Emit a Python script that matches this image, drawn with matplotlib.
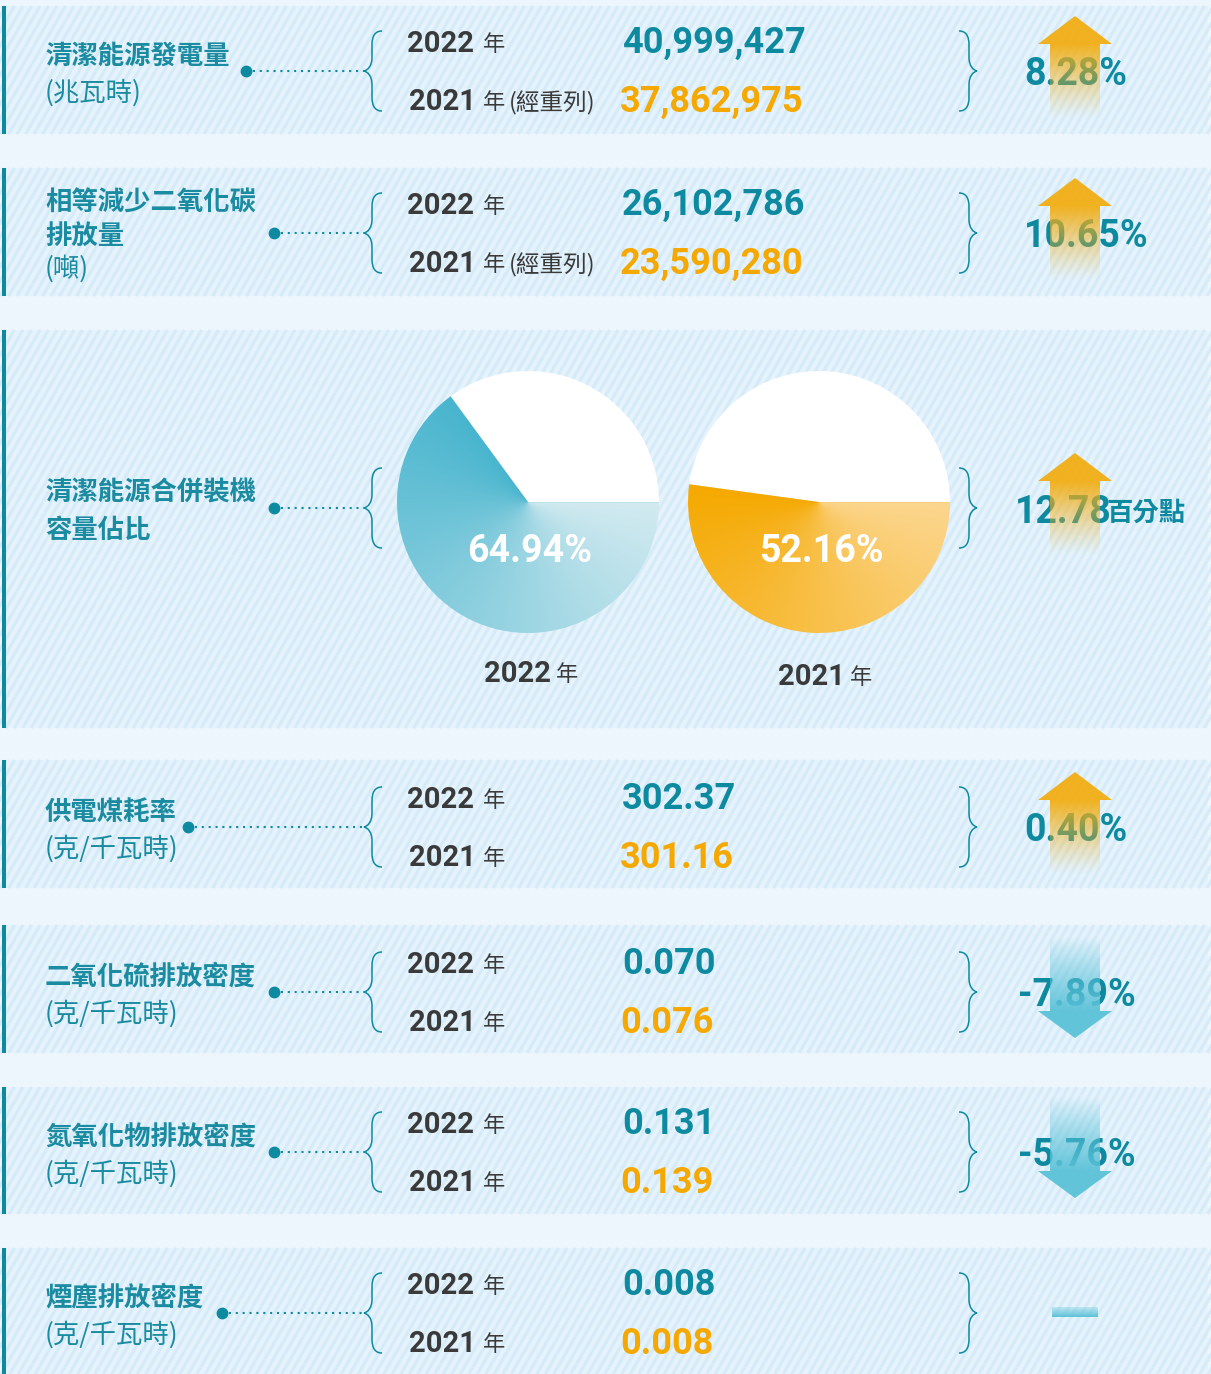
import numpy as np
import matplotlib
matplotlib.use("Agg")
import matplotlib.pyplot as plt
from matplotlib.patches import Rectangle, Polygon, PathPatch
from matplotlib.path import Path
from matplotlib.collections import LineCollection

# ---- data ----
metrics = [
    ["清潔能源發電量"],
    ["相等減少二氧化碳", "排放量"],
    ["清潔能源合併裝機", "容量佔比"],
    ["供電煤耗率"],
    ["二氧化硫排放密度"],
    ["氮氧化物排放密度"],
    ["煙塵排放密度"],
]
units = ["(兆瓦時)", "(噸)", "", "(克/千瓦時)", "(克/千瓦時)", "(克/千瓦時)", "(克/千瓦時)"]
values_2022 = [40999427, 26102786, 64.94, 302.37, 0.070, 0.131, 0.008]
values_2021 = [37862975, 23590280, 52.16, 301.16, 0.076, 0.139, 0.008]
decimals = [0, 0, 2, 2, 3, 3, 3]
restated_2021 = [True, True, False, False, False, False, False]
changes = [8.28, 10.65, 12.78, 0.40, -7.89, -5.76, 0.0]
change_units = ["%", "%", "百分點", "%", "%", "%", ""]
years = ["2022", "2021"]
PIE_ROW = 2

# ---- layout (pixels) ----
W, H = 1211, 1374
bands = [(6, 134), (168, 296), (330, 728), (760, 888), (925, 1053), (1087, 1214), (1248, 1374)]
centers = [71, 233, 508, 827, 992, 1152, 1313]
dot_x = [246, 274, 274, 188, 274, 274, 222]
change_x = [1024, 1024, 1015, 1024, 1018, 1018, 1075]
pie_cx = [528, 819]
pie_cy = 502
pie_r = 131

BG = "#EEF6FD"
BAND = "#E6F3FC"
STRIPE = "#D5EBF8"
TEAL = "#0E8AA0"
LABEL = "#1A8BA0"
ORANGE = "#F5A800"
DARK = "#3A3A3A"
ARROW_UP = "#F2AE14"
ARROW_DN = "#5BC2D8"

CJK = ["Noto Sans CJK TC", "DejaVu Sans"]
NUM = ["Roboto", "DejaVu Sans"]


def put(ax, x, cy, s, size, color, family, weight="bold", ha="left", z=3):
    # place text so that its visual middle sits on cy
    px = size * 100 / 72
    off = 0.355 * px if family is NUM else 0.38 * px
    ax.text(x, cy + off, s, fontsize=size, color=color, family=family,
            fontweight=weight, ha=ha, va="baseline", zorder=z)


def brace(ax, x_tip, yc, half, side):
    s = side
    xa, xs = x_tip + s * 18, x_tip + s * 8
    verts = [(xa, yc - half),
             (xs + s * 3, yc - half), (xs, yc - half + 5), (xs, yc - half + 14),
             (xs, yc - 14),
             (xs, yc - 5), (x_tip + s * 4, yc - 1), (x_tip, yc),
             (x_tip + s * 4, yc + 1), (xs, yc + 5), (xs, yc + 14),
             (xs, yc + half - 14),
             (xs, yc + half - 5), (xs + s * 3, yc + half), (xa, yc + half)]
    codes = [Path.MOVETO] + [Path.CURVE4] * 3 + [Path.LINETO] + [Path.CURVE4] * 6 \
        + [Path.LINETO] + [Path.CURVE4] * 3
    ax.add_patch(PathPatch(Path(verts, codes), facecolor="none", edgecolor=TEAL,
                           lw=1.1, zorder=2))


def gradient_patch(ax, poly, x0, x1, y0, y1, color, alpha_of_y):
    ys = np.linspace(y0, y1, 200)
    rgba = np.zeros((200, 2, 4))
    rgba[..., :3] = matplotlib.colors.to_rgb(color)
    rgba[..., 3] = alpha_of_y(ys)[:, None]
    im = ax.imshow(rgba, extent=(x0, x1, y1, y0), origin="upper",
                   aspect="auto", zorder=4, interpolation="bilinear")
    im.set_clip_path(Polygon(poly, closed=True, transform=ax.transData))


def arrow(ax, xc, yc, up):
    if up:
        tip, hb, end = yc - 55, yc - 27, yc + 48
        poly = [(xc, tip), (xc + 37, hb), (xc + 25, hb), (xc + 25, end),
                (xc - 25, end), (xc - 25, hb), (xc - 37, hb)]

        def a(y):
            t = np.clip((y - hb) / (end - hb), 0, 1)
            return 0.95 * (1 - t) ** 1.2
        gradient_patch(ax, poly, xc - 37, xc + 37, tip, end, ARROW_UP, a)
    else:
        top, hb, tip = yc - 55, yc + 19, yc + 46
        poly = [(xc - 25, top), (xc + 25, top), (xc + 25, hb), (xc + 37, hb),
                (xc, tip), (xc - 37, hb), (xc - 25, hb)]

        def a(y):
            t = np.clip((y - top) / (hb - top), 0, 1)
            return 0.95 * t ** 0.9
        gradient_patch(ax, poly, xc - 37, xc + 37, top, tip, ARROW_DN, a)


def conic(ax, wedge, cx, cy, r, a0, c_dark, c_light):
    n = 500
    xx, yy = np.meshgrid(np.linspace(-1, 1, n), np.linspace(1, -1, n))
    th = np.degrees(np.arctan2(yy, xx)) % 360
    t = np.clip((th - a0) / (360 - a0), 0, 1)[..., None]
    d = np.array(matplotlib.colors.to_rgb(c_dark))
    l = np.array(matplotlib.colors.to_rgb(c_light))
    img = d * (1 - t) + l * t
    im = ax.imshow(img, extent=(cx - r, cx + r, cy + r, cy - r), origin="upper",
                   aspect="auto", zorder=2, interpolation="bilinear")
    im.set_clip_path(wedge)


fig = plt.figure(figsize=(W / 100, H / 100), dpi=100)
fig.patch.set_facecolor(BG)
ax = fig.add_axes([0, 0, 1, 1])
ax.set_facecolor(BG)

# striped bands
for (y0, y1) in bands:
    rect = Rectangle((6, y0), W - 9, y1 - y0, facecolor=BAND, edgecolor="none", zorder=0)
    ax.add_patch(rect)
    shift = (y1 - y0) / np.tan(np.radians(60))
    segs = [[(x, y1), (x + shift, y0)] for x in np.arange(6 - shift, W, 8.5)]
    lc = LineCollection(segs, colors=STRIPE, linewidths=2.3, zorder=0.5)
    lc.set_clip_path(rect)
    ax.add_collection(lc)
    ax.add_patch(Rectangle((2, y0), 4, y1 - y0, facecolor=TEAL, edgecolor="none", zorder=1))

for i, c in enumerate(centers):
    # label block
    lines = metrics[i] + ([units[i]] if units[i] else [])
    n = len(lines)
    gap = 37 if n == 2 else 33
    for k, s in enumerate(lines):
        is_unit = units[i] and k == n - 1
        put(ax, 45, c + (k - (n - 1) / 2) * gap + 1, s, 19, LABEL, CJK,
            weight="normal" if is_unit else "bold")

    # dot + dotted leader
    ax.plot([dot_x[i], 364], [c, c], color=TEAL, lw=1.5, ls=(0, (1, 2.3)), zorder=2)
    ax.plot([dot_x[i]], [c], "o", color=TEAL, ms=7.5, zorder=3)
    brace(ax, 364, c, 40, 1)
    brace(ax, 977, c, 40, -1)

    if i == PIE_ROW:
        shares = [values_2022[i], values_2021[i]]
        dark = ["#48B5CE", "#F5A900"]
        light = ["#D2EAF0", "#FCD68E"]
        for j, share in enumerate(shares):
            wedges, _ = ax.pie([100 - share, share], center=(pie_cx[j], pie_cy),
                               radius=pie_r, startangle=0, counterclock=False,
                               colors=["white", "none"], frame=True,
                               wedgeprops=dict(linewidth=0))
            for w in wedges:
                w.set_zorder(2)
            a0 = (100 - share) * 3.6
            conic(ax, wedges[1], pie_cx[j], pie_cy, pie_r, a0, dark[j], light[j])
            put(ax, pie_cx[j] + 2, 549, f"{share:.2f}%", 27, "white", NUM, ha="center")
        put(ax, 484, 672, years[0], 21, DARK, NUM)
        put(ax, 556, 673, "年", 16, DARK, CJK, weight="medium")
        put(ax, 778, 675, years[1], 21, DARK, NUM)
        put(ax, 850, 676, "年", 16, DARK, CJK, weight="medium")
    else:
        put(ax, 407, c - 29, years[0], 21, DARK, NUM)
        put(ax, 483, c - 28, "年", 16, DARK, CJK, weight="medium")
        put(ax, 409, c + 29, years[1], 21, DARK, NUM)
        put(ax, 483, c + 30, "年", 16, DARK, CJK, weight="medium")
        if restated_2021[i]:
            put(ax, 509, c + 30, "(經重列)", 17, DARK, CJK, weight="normal")
        d = decimals[i]
        put(ax, 622, c - 31, f"{values_2022[i]:,.{d}f}", 26, TEAL, NUM)
        put(ax, 620, c + 28, f"{values_2021[i]:,.{d}f}", 26, ORANGE, NUM)

    # change indicator
    ch = changes[i]
    if ch > 0:
        arrow(ax, 1075, c, True)
    elif ch < 0:
        arrow(ax, 1075, c, False)
    else:
        rect = [(1052, c - 6), (1098, c - 6), (1098, c + 4), (1052, c + 4)]
        gradient_patch(ax, rect, 1052, 1098, c - 6, c + 4, ARROW_DN,
                       lambda y: np.clip(0.25 + (y - (c - 6)) / 10 * 0.75, 0, 1))
    if ch != 0:
        if change_units[i] == "%":
            put(ax, change_x[i], c + 1, f"{ch:.2f}%", 27, TEAL, NUM)
        else:
            put(ax, change_x[i], c + 2, f"{ch:.2f}", 27, TEAL, NUM)
            put(ax, 1106, c + 3, change_units[i], 19, TEAL, CJK)

ax.set_xlim(0, W)
ax.set_ylim(H, 0)
ax.set_aspect("auto")
ax.axis("off")
fig.savefig("out.png", dpi=100, facecolor=BG)
